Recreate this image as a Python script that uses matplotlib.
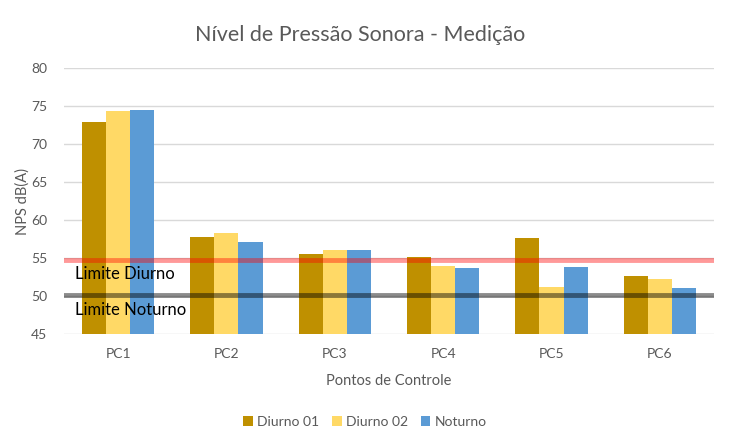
import matplotlib.pyplot as plt
import numpy as np

# --- Data ---
pontos = ["PC1", "PC2", "PC3", "PC4", "PC5", "PC6"]
diurno_01 = [72.9, 57.8, 55.5, 55.1, 57.6, 52.6]
diurno_02 = [74.3, 58.3, 56.1, 53.9, 51.2, 52.2]
noturno = [74.5, 57.1, 56.1, 53.7, 53.8, 51.0]
limite_diurno = 54.7
limite_noturno = 50.1

plt.rcParams['font.family'] = ['Lato', 'DejaVu Sans']

fig = plt.figure(figsize=(7.43, 4.40), dpi=100)
ax = fig.add_axes([0.086, 0.241, 0.875, 0.604])

x = np.arange(len(pontos))
w = 0.222
ax.bar(x - w, diurno_01, w, color="#BF9000", label="Diurno 01", zorder=2)
ax.bar(x, diurno_02, w, color="#FFD966", label="Diurno 02", zorder=2)
ax.bar(x + w, noturno, w, color="#5B9BD5", label="Noturno", zorder=2)

ax.axhline(limite_diurno, color="#FF0000", alpha=0.4, linewidth=3.5, zorder=3)
ax.axhline(limite_noturno, color="#000000", alpha=0.45, linewidth=3.5, zorder=3)
ax.text(-0.4, limite_diurno - 0.75, "Limite Diurno", fontsize=12, va="top", ha="left", zorder=4)
ax.text(-0.4, limite_noturno - 0.9, "Limite Noturno", fontsize=12, va="top", ha="left", zorder=4)

ax.set_xlim(-0.5, 5.5)
ax.set_ylim(45, 80)
ax.set_yticks(range(45, 81, 5))
ax.set_xticks(x)
ax.set_xticklabels(pontos)
ax.grid(axis="y", color="#D9D9D9", linewidth=1, zorder=0)
for s in ax.spines.values():
    s.set_visible(False)
ax.tick_params(length=0, colors="#595959", labelsize=10)
ax.tick_params(axis="x", pad=10)
ax.tick_params(axis="y", pad=12)

fig.text(360 / 743, 1 - 35 / 440, "Nível de Pressão Sonora - Medição", fontsize=15.5,
         color="#595959", ha="center", va="center")
ax.set_ylabel("NPS dB(A)", fontsize=10.5, color="#595959", labelpad=0)
ax.yaxis.set_label_coords(-0.052, 0.5)
ax.set_xlabel("Pontos de Controle", fontsize=10.5, color="#595959", labelpad=10)

fig.legend(loc="center", bbox_to_anchor=(365 / 743, 1 - 422 / 440), ncol=3, frameon=False,
           fontsize=10, labelcolor="#595959", handlelength=0.7, handleheight=0.7,
           handletextpad=0.3, columnspacing=0.9)

fig.savefig("out.png", dpi=100)
